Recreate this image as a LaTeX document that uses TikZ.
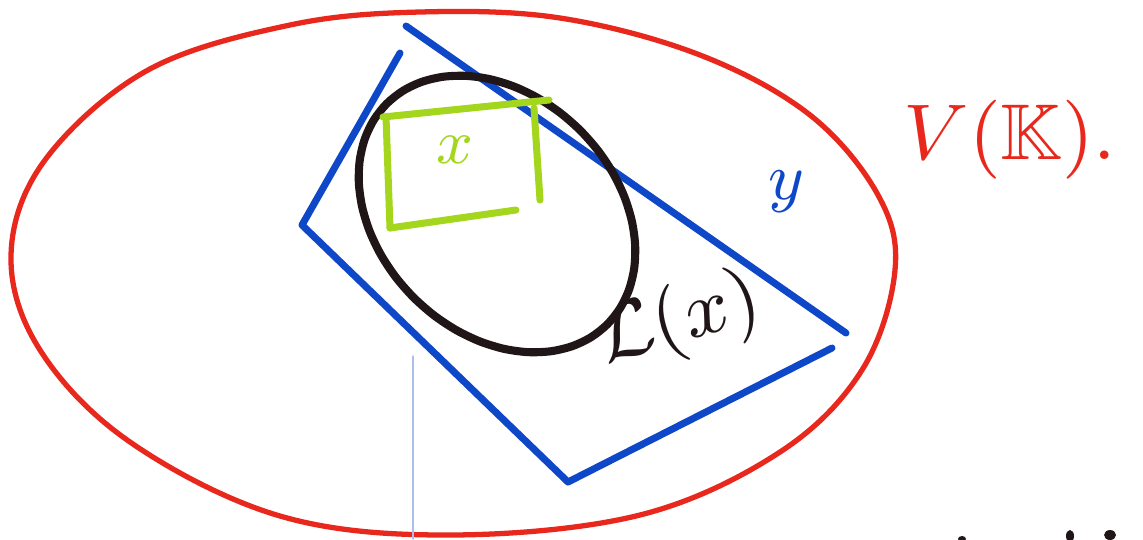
\documentclass[tikz,border=0pt]{standalone}
\usepackage{amsmath,amssymb}
\usepackage{xcolor}
\usepackage{tikz}
\usetikzlibrary{arrows.meta,positioning,calc}

\definecolor{penred}{RGB}{232,40,28}
\definecolor{penblue}{RGB}{14,72,200}
\definecolor{pengreen}{RGB}{164,214,30}
\definecolor{penblack}{RGB}{32,22,24}

\begin{document}
\begin{tikzpicture}[x=0.02cm, y=-0.02cm, line cap=round, line join=round,
    every node/.style={font=\small}]
  \useasboundingbox (0,0) rectangle (1143,539);
  % the outer set
  \draw[penred, line width=3pt] plot[smooth cycle, tension=0.6] coordinates {
    (11,255) (45,160) (148,70) (290,25) (420,12) (560,18) (700,55)
    (810,115) (878,195) (895,270) (862,370) (780,452) (640,515)
    (450,535) (280,516) (130,442) (40,350)};
  \node[penred, scale=5] (vk) at (1010,140) {$V(\mathbb{K}).$};
  % the blue region y
  \draw[penblue, line width=4pt] (406,26) -- (846,333);
  \draw[penblue, line width=4pt] (400,53) -- (302,225) -- (568,482) -- (832,348);
  \node[penblue, scale=4.2] (y) at (786,192) {$y$};
  % the black loop
  \draw[penblack, line width=4.6pt] plot[smooth cycle, domain=0:350, samples=36, variable=\t]
    ({497 + 0.7071*(156*cos(\t) + 118*sin(\t))}, {214 + 0.7071*(156*cos(\t) - 118*sin(\t))});
  \node[penblack, scale=5, rotate=16] (lx) at (680,322) {$\mathcal{L}(x)$};
  % the green box x
  \draw[pengreen, line width=4pt] (383,117) -- (549,100);
  \draw[pengreen, line width=4pt] (386,117) -- (390,228);
  \draw[pengreen, line width=4pt] (390,228) -- (516,210);
  \draw[pengreen, line width=4pt] (534,108) -- (540,200);
  \node[pengreen, scale=4] (x) at (455,150) {$x$};
  % thin guide line
  \draw[penblue!35, line width=0.6pt] (413,356) -- (413,539);
  % marks at the bottom edge
  \fill[penblack] (962,539) ellipse (4 and 3);
  \fill[penblack] (1070,536) ellipse (4 and 6);
  \fill[penblack] (1110,535) ellipse (6 and 5);
\end{tikzpicture}
\end{document}
